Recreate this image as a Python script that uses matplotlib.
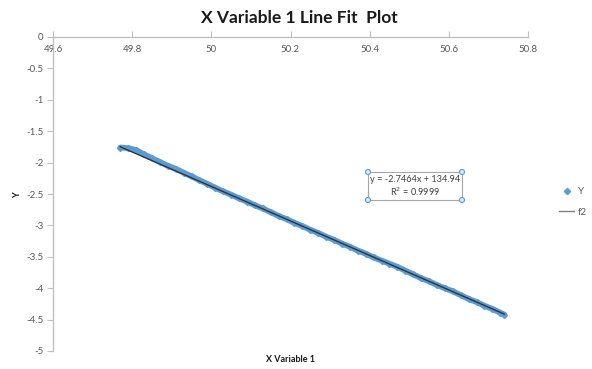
import matplotlib
matplotlib.use("Agg")
import matplotlib.pyplot as plt
from matplotlib.lines import Line2D
import numpy as np

plt.rcParams['font.family'] = ['Lato', 'DejaVu Sans']

x_vals = [49.77, 49.79, 49.81, 49.83, 49.85, 49.87, 49.89, 49.91, 49.93, 49.95,
          49.97, 49.99, 50.01, 50.03, 50.05, 50.07, 50.09, 50.11, 50.13, 50.15,
          50.17, 50.19, 50.21, 50.23, 50.25, 50.27, 50.29, 50.31, 50.33, 50.35,
          50.37, 50.39, 50.41, 50.43, 50.45, 50.47, 50.49, 50.51, 50.53, 50.55,
          50.57, 50.59, 50.61, 50.63, 50.65, 50.67, 50.69, 50.71, 50.73, 50.74]
y_vals = [-1.76, -1.77, -1.80, -1.87, -1.93, -1.99, -2.05, -2.10, -2.16, -2.22,
          -2.28, -2.34, -2.40, -2.46, -2.51, -2.57, -2.62, -2.68, -2.73, -2.79,
          -2.85, -2.90, -2.96, -3.01, -3.07, -3.12, -3.18, -3.23, -3.29, -3.34,
          -3.40, -3.45, -3.51, -3.56, -3.61, -3.66, -3.72, -3.78, -3.84, -3.89,
          -3.95, -4.00, -4.05, -4.11, -4.17, -4.22, -4.28, -4.33, -4.39, -4.42]

slope = -2.7464
intercept = 134.94
r_squared = 0.9999

x_ticks = [49.6, 49.8, 50, 50.2, 50.4, 50.6, 50.8]
y_ticks = [0, -0.5, -1, -1.5, -2, -2.5, -3, -3.5, -4, -4.5, -5]

blue = '#5B9BD5'
axis_gray = '#BFBFBF'
text_gray = '#595959'

fig = plt.figure(figsize=(5.92, 3.69), dpi=100)
ax = fig.add_axes([53/592, 1-351/369, (528-53)/592, (351-37)/369])

ax.plot(x_vals, y_vals, color=blue, lw=4.2, solid_capstyle='round',
        solid_joinstyle='round', zorder=2)
ax.plot(x_vals, y_vals, linestyle='none', marker='D', ms=3, color=blue, zorder=2)
xf = np.array([min(x_vals), max(x_vals)])
ax.plot(xf, slope*xf + intercept, color='#333333', lw=1, zorder=3)

ax.set_xlim(49.6, 50.8)
ax.set_ylim(-5, 0)
ax.set_xticks(x_ticks)
ax.set_xticklabels([f"{t:g}" for t in x_ticks])
ax.set_yticks(y_ticks)
ax.set_yticklabels([f"{t:g}" for t in y_ticks])

for s in ['right', 'bottom']:
    ax.spines[s].set_visible(False)
for s in ['top', 'left']:
    ax.spines[s].set_color(axis_gray)
    ax.spines[s].set_linewidth(1)

ax.xaxis.tick_top()
ax.tick_params(axis='x', which='both', top=True, bottom=False, labeltop=True,
               labelbottom=False, direction='out', length=4, color=axis_gray,
               labelsize=7, labelcolor=text_gray, pad=-16)
ax.tick_params(axis='y', direction='out', length=4, color=axis_gray,
               labelsize=7, labelcolor=text_gray, pad=3)

fig.text(299/592, 1-18/369, 'X Variable 1 Line Fit  Plot', ha='center', va='center',
         fontsize=12.5, fontweight='bold', color='#1a1a1a')
fig.text(18/592, 1-195/369, 'Y', rotation=90, ha='center', va='center',
         fontsize=6.5, fontweight='bold', color='#1a1a1a')
fig.text(291/592, 1-359/369, 'X Variable 1', ha='center', va='center',
         fontsize=6.5, fontweight='bold', color='#1a1a1a')

# trendline label box
bx0, by0, bx1, by1 = 368/592, 1-200/369, 462/592, 1-172/369
fig.patches.append(matplotlib.patches.Rectangle((bx0, by0), bx1-bx0, by1-by0,
                   transform=fig.transFigure, fill=True, facecolor='white',
                   edgecolor='#A6A6A6', lw=0.8, zorder=5))
fig.text((bx0+bx1)/2, 1-180/369, f"y = {slope}x + {intercept}", ha='center',
         va='center', fontsize=6.6, color='#404040', zorder=6)
fig.text((bx0+bx1)/2, 1-192/369, f"R$^2$ = {r_squared}", ha='center',
         va='center', fontsize=6.6, color='#404040', zorder=6)
for cx, cy in [(bx0, by0), (bx0, by1), (bx1, by0), (bx1, by1)]:
    fig.patches.append(matplotlib.patches.Ellipse((cx, cy), 5/592, 5/369,
                       transform=fig.transFigure, facecolor='#DDEBF7',
                       edgecolor=blue, lw=0.8, zorder=7))

handles = [Line2D([], [], linestyle='none', marker='D', ms=3.2, color=blue),
           Line2D([], [], color='#808080', lw=1)]
fig.legend(handles, ['Y', 'f2'], loc='center left',
           bbox_to_anchor=(550/592, 1-202/369), frameon=False, fontsize=7,
           handlelength=1.6, labelspacing=1.2, handletextpad=0.4,
           labelcolor=text_gray)

fig.savefig('out.png', dpi=100)
